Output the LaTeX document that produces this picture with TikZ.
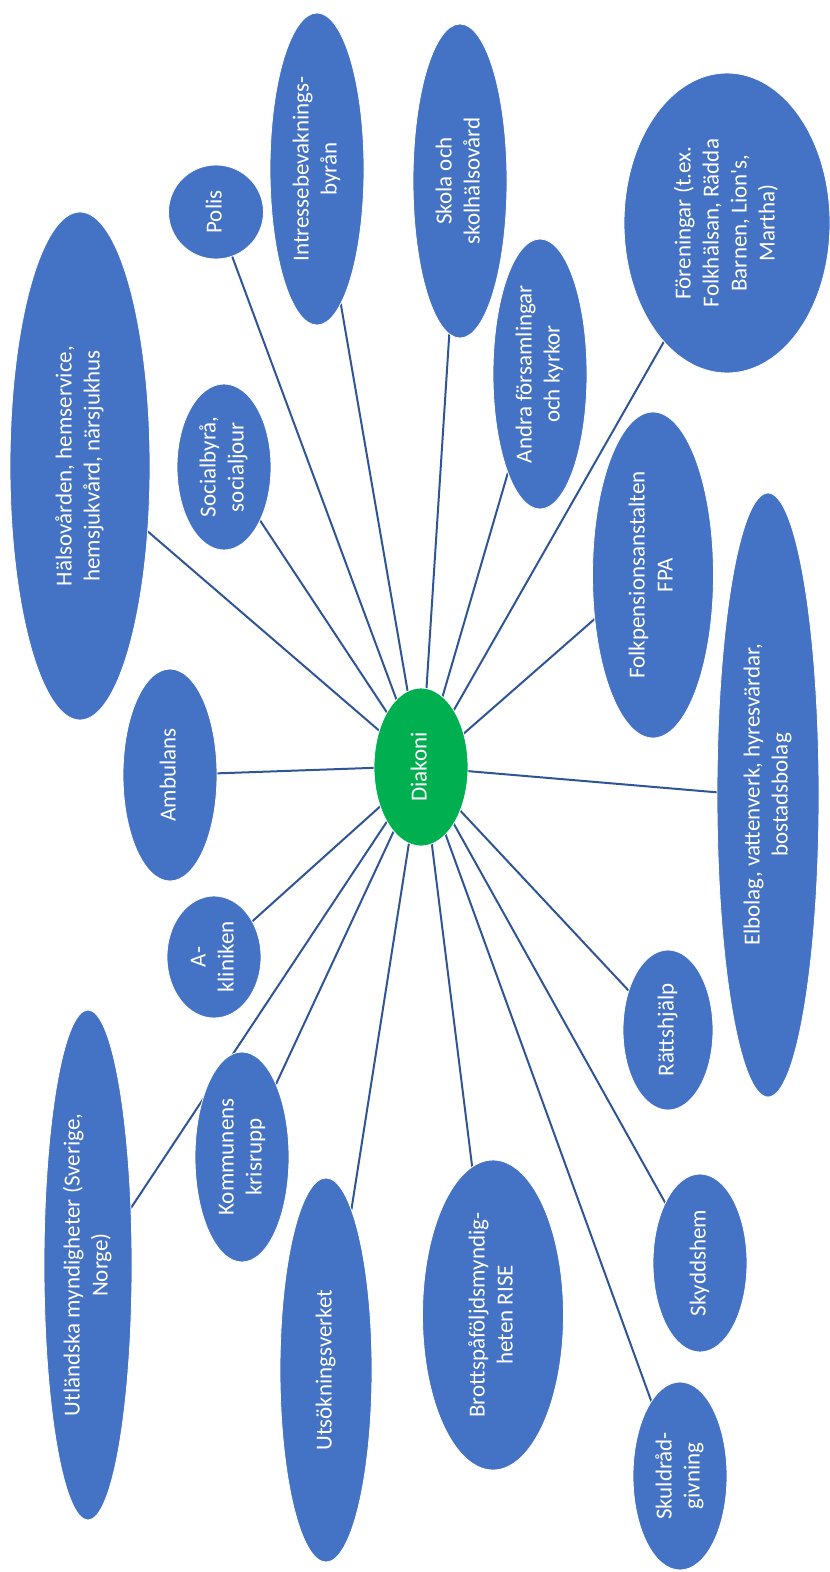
\documentclass[tikz,border=0pt]{standalone}
\usepackage{fontspec}
\setmainfont{Carlito}
\usepackage{graphicx}
\usetikzlibrary{shapes.geometric,backgrounds}
\definecolor{blobblue}{HTML}{4472C4}
\definecolor{diagreen}{HTML}{00B050}
\definecolor{linkblue}{HTML}{2F5597}
\newcommand{\vtext}[1]{\rotatebox{90}{\begin{tabular}{@{}c@{}}#1\end{tabular}}}
\begin{document}
\begin{tikzpicture}[x=1pt,y=-1pt,
  blob/.style={ellipse, fill=blobblue, draw=white, line width=0.8pt, inner sep=0pt, outer sep=0pt,
    text=white, font=\fontsize{23}{28}\selectfont},
  center/.style={blob, fill=diagreen},
  link/.style={draw=linkblue, line width=2pt}]
\useasboundingbox (0,0) rectangle (830,1572);

\node[center, minimum width=94pt, minimum height=158pt] (diakoni) at (421,767) {\vtext{Diakoni}};

\node[blob, minimum width=95pt, minimum height=94pt] (polis) at (216,212) {\vtext{Polis}};
\node[blob, minimum width=94pt, minimum height=312pt] (intresse) at (317,169) {\vtext{Intressebevaknings-\\byrån}};
\node[blob, minimum width=94pt, minimum height=314pt] (skola) at (460,181) {\vtext{Skola och\\skolhälsovård}};
\node[blob, minimum width=94pt, minimum height=270pt] (andra) at (540,374) {\vtext{Andra församlingar\\och kyrkor}};
\node[blob, minimum width=206pt, minimum height=300pt] (foren) at (727,223) {\vtext{Föreningar (t.ex.\\Folkhälsan, Rädda\\Barnen, Lion\textquotesingle s,\\Martha)}};
\node[blob, minimum width=140pt, minimum height=508pt] (halso) at (80,466) {\vtext{Hälsovården, hemservice,\\hemsjukvård, närsjukhus}};
\node[blob, minimum width=94pt, minimum height=166pt] (social) at (224,467) {\vtext{Socialbyrå,\\socialjour}};
\node[blob, minimum width=121pt, minimum height=326pt] (fpa) at (653,575) {\vtext{Folkpensionsanstalten\\FPA}};
\node[blob, minimum width=94pt, minimum height=212pt] (ambulans) at (170,775) {\vtext{Ambulans}};
\node[blob, minimum width=102pt, minimum height=604pt] (elbolag) at (768,795) {\vtext{Elbolag, vattenverk, hyresvärdar,\\bostadsbolag}};
\node[blob, minimum width=94pt, minimum height=122pt] (aklin) at (214,957) {\vtext{A-\\kliniken}};
\node[blob, minimum width=90pt, minimum height=160pt] (ratt) at (668,1030) {\vtext{Rättshjälp}};
\node[blob, minimum width=88pt, minimum height=510pt] (utland) at (88,1265) {\vtext{Utländska myndigheter (Sverige,\\Norge)}};
\node[blob, minimum width=94pt, minimum height=210pt] (kommun) at (242,1157) {\vtext{Kommunens\\krisrupp}};
\node[blob, minimum width=92pt, minimum height=384pt] (utsok) at (326,1370) {\vtext{Utsökningsverket}};
\node[blob, minimum width=141pt, minimum height=310pt] (brott) at (493,1315) {\vtext{Brottspåföljdsmyndig-\\heten RISE}};
\node[blob, minimum width=94pt, minimum height=178pt] (skydd) at (700,1263) {\vtext{Skyddshem}};
\node[blob, minimum width=94pt, minimum height=188pt] (skuld) at (680,1476) {\vtext{Skuldråd-\\givning}};

\begin{scope}[on background layer]
\draw[link] (diakoni.110) -- (polis.-70);
\draw[link] (diakoni.100) -- (intresse.-80);
\draw[link] (diakoni.86) -- (skola.-94);
\draw[link] (diakoni.73) -- (andra.-108);
\draw[link] (diakoni.60) -- (foren.-118);
\draw[link] (diakoni.139) -- (halso.-44);
\draw[link] (diakoni.122) -- (social.-56);
\draw[link] (diakoni.38) -- (fpa.-143);
\draw[link] (diakoni.181) -- (ambulans.2);
\draw[link] (diakoni.-5) -- (elbolag.177);
\draw[link] (diakoni.-136) -- (aklin.43);
\draw[link] (diakoni.-122) -- (utland.53);
\draw[link] (diakoni.-113) -- (kommun.65);
\draw[link] (diakoni.-99) -- (utsok.81);
\draw[link] (diakoni.-82) -- (brott.98);
\draw[link] (diakoni.-70) -- (skuld.111);
\draw[link] (diakoni.-60) -- (skydd.120);
\draw[link] (diakoni.-48) -- (ratt.135);
\end{scope}
\end{tikzpicture}
\end{document}
